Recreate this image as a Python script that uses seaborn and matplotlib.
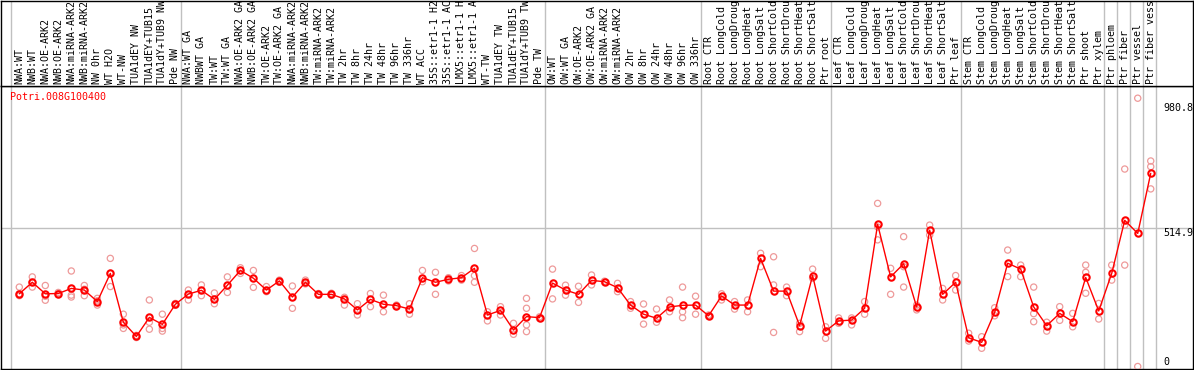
import numpy as np
import pandas as pd
import matplotlib
matplotlib.use("Agg")
import matplotlib.pyplot as plt
import seaborn as sns

gene = "Potri.008G100400"

samples = [
    "NWA:WT", "NWB:WT", "NWA:OE-ARK2", "NWB:OE-ARK2", "NWA:miRNA-ARK2", "NWB:miRNA-ARK2",
    "NW 0hr", "WT H2O", "WT-NW", "TUA1dEY NW", "TUA1dEY+TUB15", "TUA1dY+TUB9 NW", "Pde NW",
    "NWA:WT GA", "NWBWT GA", "TW:WT", "TW:WT GA", "NWA:OE-ARK2 GA", "NWB:OE-ARK2 GA",
    "TW:OE-ARK2", "TW:OE-ARK2 GA", "NWA:miRNA-ARK2", "NWB:miRNA-ARK2", "TW:miRNA-ARK2",
    "TW:miRNA-ARK2", "TW 2hr", "TW 8hr", "TW 24hr", "TW 48hr", "TW 96hr", "TW 336hr",
    "WT ACC", "35S::etr1-1 H2", "35S::etr1-1 AC", "LMX5::etr1-1 H", "LMX5::etr1-1 A",
    "WT-TW", "TUA1dEY TW", "TUA1dEY+TUB15", "TUA1dY+TUB9 TW", "Pde TW",
    "OW:WT", "OW:WT GA", "OW:OE-ARK2", "OW:OE-ARK2 GA", "OW:miRNA-ARK2", "OW:miRNA-ARK2",
    "OW 2hr", "OW 8hr", "OW 24hr", "OW 48hr", "OW 96hr", "OW 336hr",
    "Root CTR", "Root LongCold", "Root LongDroug", "Root LongHeat", "Root LongSalt",
    "Root ShortCold", "Root ShortDrou", "Root ShortHeat", "Root ShortSalt", "Ptr root",
    "Leaf CTR", "Leaf LongCold", "Leaf LongDroug", "Leaf LongHeat", "Leaf LongSalt",
    "Leaf ShortCold", "Leaf ShortDrou", "Leaf ShortHeat", "Leaf ShortSalt", "Ptr leaf",
    "Stem CTR", "Stem LongCold", "Stem LongDroug", "Stem LongHeat", "Stem LongSalt",
    "Stem ShortCold", "Stem ShortDrou", "Stem ShortHeat", "Stem ShortSalt", "Ptr shoot",
    "Ptr xylem", "Ptr phloem", "Ptr fiber", "Ptr vessel", "Ptr fiber vess",
]

means = [
    271, 314, 271, 272, 291, 285, 242, 347, 165, 112, 183, 157, 232,
    270, 284, 250, 303, 358, 329, 285, 319, 259, 314, 269, 269, 252, 211, 250, 232,
    227, 214, 331, 314, 325, 331, 366, 192, 209, 136, 186, 182,
    311, 285, 269, 321, 316, 294, 229, 195, 180, 222, 228, 229,
    189, 263, 229, 229, 403, 281, 281, 152, 339, 132,
    170, 173, 217, 530, 334, 383, 222, 508, 269, 314,
    107, 90, 202, 385, 363, 222, 152, 198, 167, 332, 207,
    347, 545, 496, 720,
]

reps = [
    [296, 271, 264], [334, 296, 314], [302, 262, 247], [268, 276, 272], [356, 266, 259],
    [302, 264, 288], [254, 229, 245], [403, 298, 347], [195, 142, 155], [108, 112, 116],
    [248, 165, 139], [195, 142, 132], [228, 235],
    [285, 248], [304, 264], [274, 234], [334, 276], [368, 347], [358, 295], [298, 279],
    [322, 314], [300, 217], [322, 308], [272, 266], [273, 265], [258, 229], [234, 192],
    [272, 223], [266, 204], [229, 224], [234, 195], [358, 316], [351, 269], [331, 319],
    [339, 322], [440, 339, 314], [204, 170], [223, 192], [161, 120], [254, 217, 155, 130],
    [185, 179],
    [363, 252], [303, 266], [299, 239], [341, 304], [318, 314], [310, 279],
    [242, 217], [233, 158], [214, 165], [248, 204], [296, 204, 182], [262, 195],
    [192, 187], [271, 248], [242, 214], [248, 204], [422, 372],
    [409, 304, 127], [296, 264], [161, 130], [363, 329], [148, 105],
    [181, 161], [181, 155], [242, 195], [608, 520, 472], [366, 269], [372, 484, 296],
    [229, 211], [527, 490], [291, 248], [339, 285],
    [124, 95], [111, 68], [219, 189], [434, 335], [378, 335], [296, 197, 167],
    [165, 132], [223, 172], [198, 148], [378, 351, 273], [235, 177],
    [378, 322], [736, 378, 527], [1000, 0], [766, 745, 662],
]

group_ends = [-1, 12, 40, 52, 62, 72, 83, 84, 85, 86, 87]
y_ticks = [0, 514.9, 980.8]

sns.set_style("white")
mono = "DejaVu Sans Mono"

W, H = 1194, 370
fig = plt.figure(figsize=(W / 100, H / 100), dpi=100)

# pixel -> data mapping along x
x0_px, step_px = 19.3, 13.005
xlim = ((1 - x0_px) / step_px, (1193 - x0_px) / step_px)

ax = fig.add_axes([1 / W, 1 / H, 1192 / W, 283 / H])
head = fig.add_axes([1 / W, 284 / H, 1192 / W, 85.5 / H])

idx = np.arange(len(samples))
rep_df = pd.DataFrame(
    [(i, v) for i, vals in enumerate(reps) for v in vals], columns=["pos", "value"]
)

# replicate values, then the mean line on top
sns.scatterplot(data=rep_df, x="pos", y="value", ax=ax, marker="o", s=20,
                facecolors="none", edgecolor="#ee9a9a", linewidth=0.9, zorder=3)
sns.lineplot(x=idx, y=means, ax=ax, color="red", linewidth=1.0, marker="o",
             markersize=4.6, markerfacecolor="none", markeredgecolor="red",
             markeredgewidth=1.5, zorder=4)

ax.set_xlim(*xlim)
ax.set_ylim(-9.3, 1045.5)
ax.set_xticks([])
ax.set_yticks([])
ax.set_xlabel("")
ax.set_ylabel("")
ax.axhline(514.9, color="#c0c0c0", linewidth=1, zorder=1)

for a in (ax, head):
    for k in group_ends:
        a.axvline(k + 0.4, color="#c0c0c0", linewidth=1, zorder=1)
    for s in a.spines.values():
        s.set_color("black")
        s.set_linewidth(1)

for t in y_ticks:
    va = "bottom" if t == 0 else "top"
    ax.text((1163 - x0_px) / step_px, t, f"{t:g}", ha="left", va=va, fontsize=7.2,
            family=mono, color="black")

ax.text(0.0076, 0.979, gene, transform=ax.transAxes, ha="left", va="top",
        fontsize=7.2, family=mono, color="red")

head.set_xlim(*xlim)
head.set_ylim(0, 1)
head.set_xticks([])
head.set_yticks([])
for i, name in enumerate(samples):
    head.text(i, 0.02, name, rotation=90, ha="center", va="bottom",
              fontsize=7.2, family=mono, color="black", clip_on=True)

fig.savefig("out.png", dpi=100)
